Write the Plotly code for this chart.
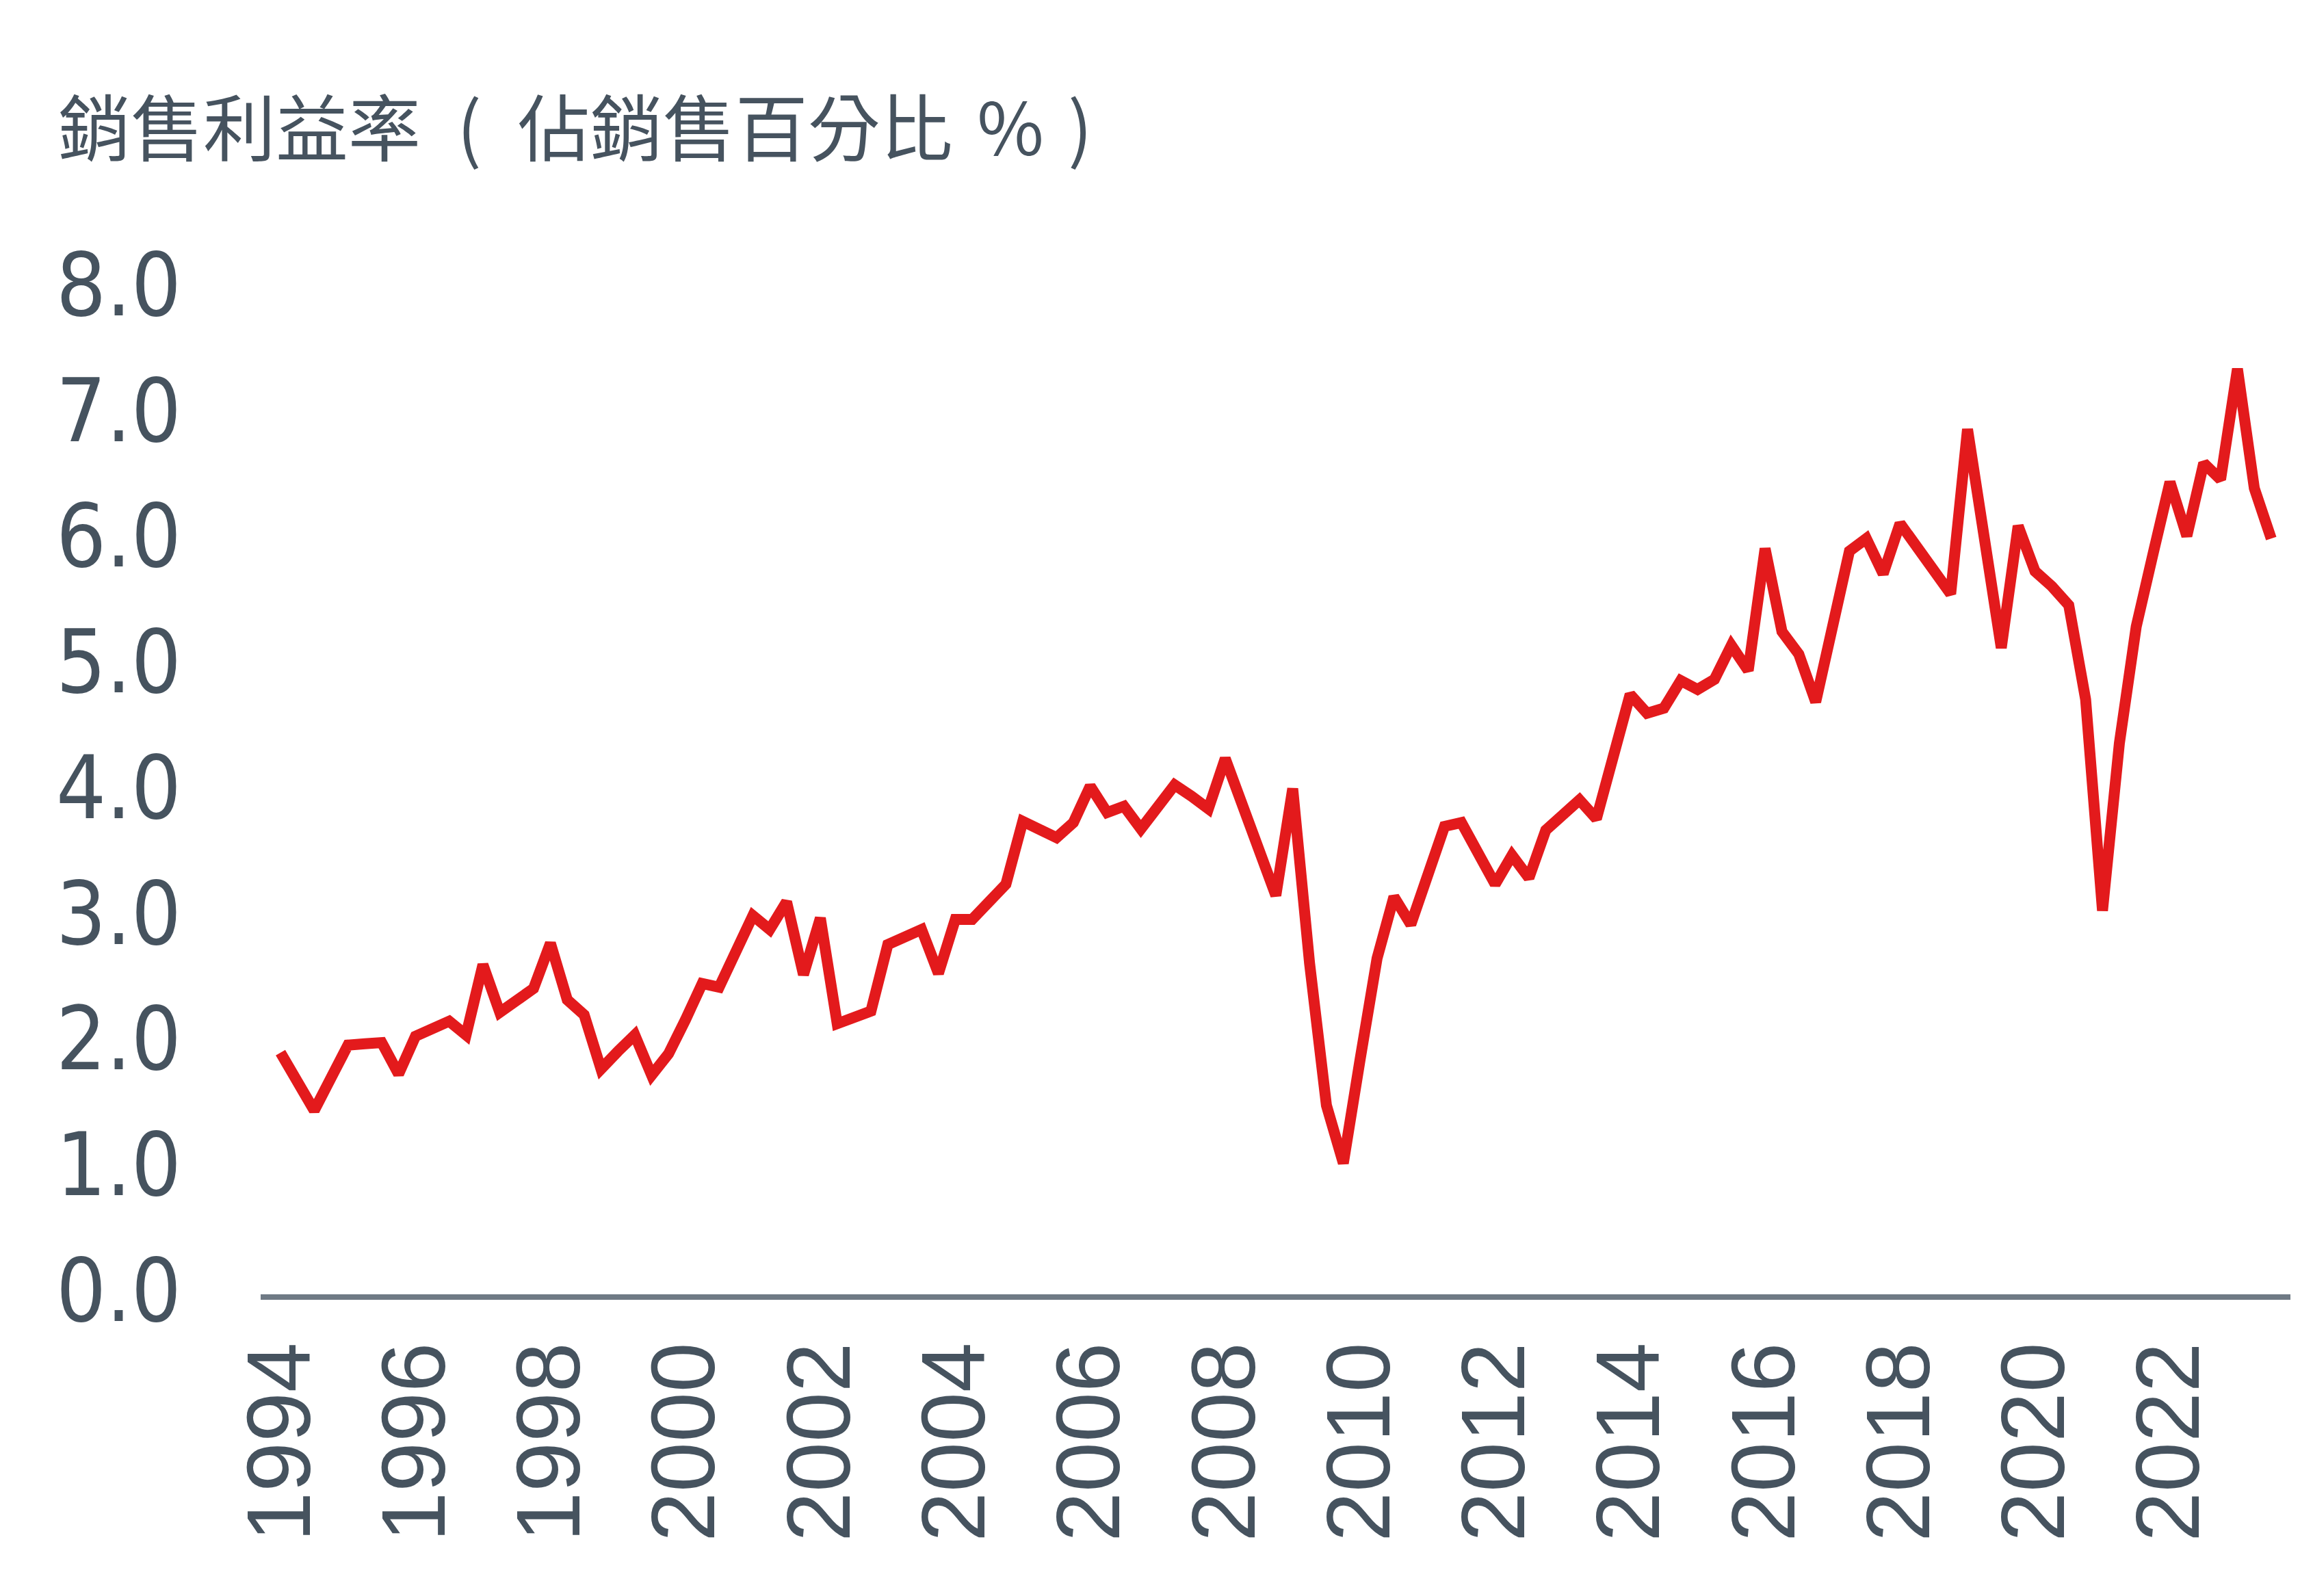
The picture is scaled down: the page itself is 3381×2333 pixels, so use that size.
import plotly.graph_objects as go

# Quarterly series, 1994 Q1 onward
start_year = 1994
profit_margin = [
    1.89, 1.66, 1.43, 1.69, 1.95, 1.96, 1.97, 1.72,
    2.02, 2.08, 2.14, 2.03, 2.59, 2.21, 2.30, 2.40,
    2.76, 2.31, 2.19, 1.76, 1.90, 2.03, 1.71, 1.88,
    2.15, 2.44, 2.41, 2.70, 2.98, 2.87, 3.09, 2.51,
    2.96, 2.12, 2.16, 2.22, 2.75, 2.82, 2.87, 2.52,
    2.95, 2.95, 3.10, 3.23, 3.73, 3.67, 3.60, 3.72,
    4.01, 3.80, 3.85, 3.67, 3.85, 4.02, 3.93, 3.83,
    4.23, 3.87, 3.51, 3.14, 3.99, 2.60, 1.47, 1.01,
    1.84, 2.64, 3.13, 2.91, 3.30, 3.69, 3.72, 3.47,
    3.23, 3.46, 3.28, 3.66, 3.78, 3.90, 3.75, 4.25,
    4.74, 4.59, 4.63, 4.85, 4.78, 4.86, 5.13, 4.93,
    5.90, 5.24, 5.06, 4.68, 5.28, 5.88, 5.98, 5.70,
    6.10, 5.91, 5.72, 5.54, 6.85, 5.98, 5.11, 6.08,
    5.72, 5.60, 5.45, 4.70, 3.02, 4.35, 5.28, 5.86,
    6.43, 6.00, 6.58, 6.45, 7.33, 6.38, 5.98,
]
quarter_pos = [start_year + i / 4 for i in range(len(profit_margin))]

tick_years = list(range(1994, 2023, 2))
tick_labels = [str(y) for y in tick_years]
y_ticks = [0, 1, 2, 3, 4, 5, 6, 7, 8]
y_tick_labels = [f"{v:.1f}" for v in y_ticks]

EN = "\u2002"
TH = "\u2004"
title_text = f"銷售利益率{EN}({EN}佔銷售百分比{TH}%{TH})"

TEXT = "#46535f"

fig = go.Figure()
fig.add_trace(go.Scatter(
    x=quarter_pos, y=profit_margin, mode="lines",
    line=dict(color="#e31a1c", width=16),
    hoverinfo="skip", showlegend=False,
))

W, H = 3381, 2333
L, R, T, B = 373, 41, 353, 449

fig.update_layout(
    width=W, height=H,
    margin=dict(l=L, r=R, t=T, b=B),
    paper_bgcolor="white", plot_bgcolor="white",
    showlegend=False,
    xaxis=dict(
        range=[1993.706, 2023.785],
        tickvals=tick_years, ticktext=tick_labels,
        tickangle=-90,
        tickfont=dict(family="Liberation Sans, Arial, sans-serif", size=131, color=TEXT),
        ticks="", showgrid=False, zeroline=False,
        showline=True, linecolor="#6f7a85", linewidth=8,
        ticklabelstandoff=10,
    ),
    yaxis=dict(
        range=[-0.033, 8.3],
        tickvals=y_ticks, ticktext=y_tick_labels,
        tickfont=dict(family="DejaVu Sans Condensed, DejaVu Sans, sans-serif", size=128, color=TEXT),
        ticks="", showgrid=False, zeroline=False, showline=False,
        ticklabelstandoff=115,
    ),
    annotations=[dict(
        text=title_text, xref="paper", yref="paper",
        x=(75 - L) / (W - L - R), y=(H - B - 173) / (H - T - B),
        xanchor="left", yanchor="middle", showarrow=False,
        font=dict(family="Noto Sans CJK TC, Noto Sans CJK SC, sans-serif", size=106, color=TEXT),
    )],
)

fig.write_html("out.html")
